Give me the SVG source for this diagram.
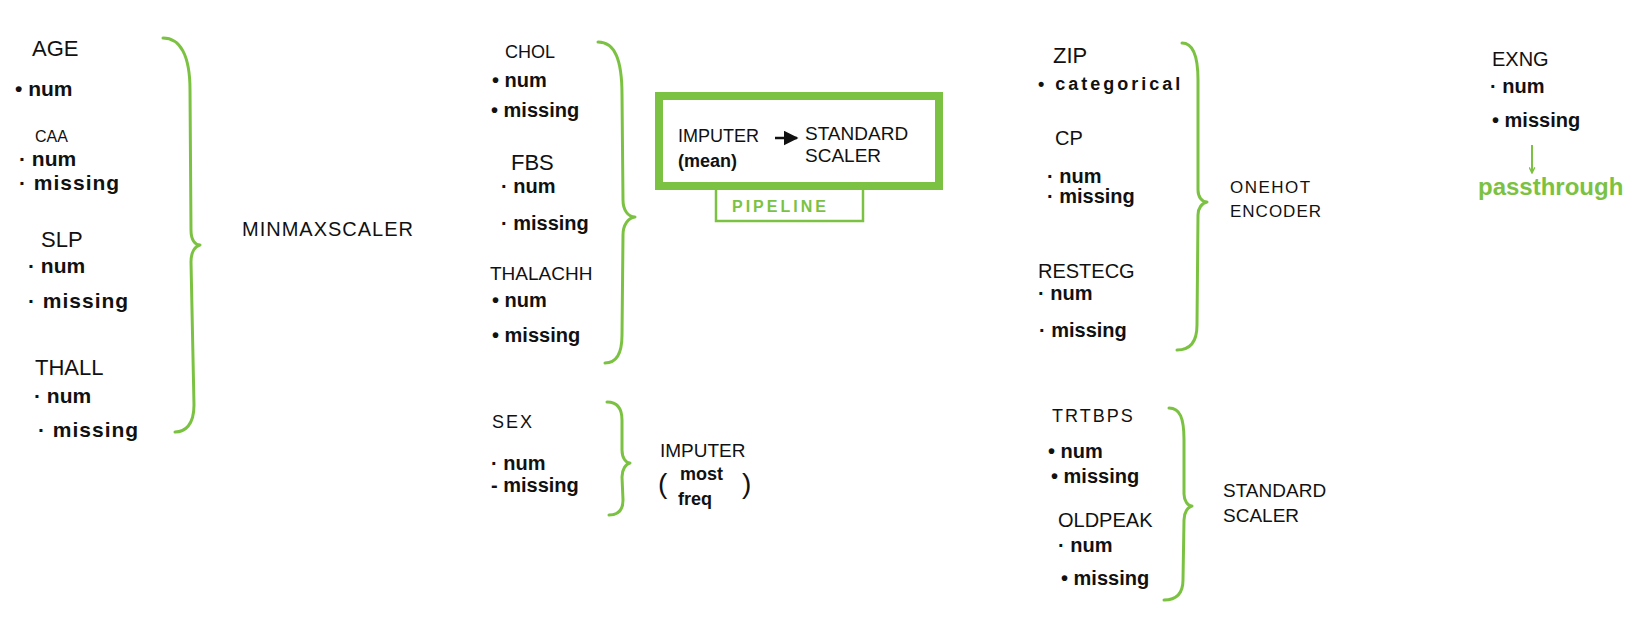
<svg xmlns="http://www.w3.org/2000/svg" width="1636" height="625" viewBox="0 0 1636 625">
<style>
text{font-family:"Liberation Sans",Arial,sans-serif;fill:#111}
.h{font-size:20px}
.it{font-size:20px;font-weight:bold}
.g{fill:#7cc242}
.br{fill:none;stroke:#7cc242;stroke-width:3;stroke-linecap:round;stroke-linejoin:round}
</style>
<defs>
<marker id="ah" viewBox="0 0 10 10" refX="9" refY="5" markerWidth="6" markerHeight="6" orient="auto">
<path d="M0,0 L10,5 L0,10 z" fill="#111"/>
</marker>
<marker id="gv" viewBox="0 0 10 10" refX="9" refY="5" markerWidth="7" markerHeight="7" orient="auto" markerUnits="userSpaceOnUse">
<path d="M1,1 L9,5 L1,9" fill="none" stroke="#7cc242" stroke-width="2"/>
</marker>
</defs>
<rect width="1636" height="625" fill="#fff"/>

<g id="connectors">
<path class="br" d="M163,38 C180,38 190,55 190,90 L191,230 C191,240 195,245 200,245 C195,246 191,252 191,262 L194,405 C194,425 185,432 175,432"/>
<path class="br" d="M598,42 C615,42 622,60 622,95 L623,200 C623,210 628,217 635,217 C628,218 623,225 623,235 L622,335 C622,355 615,363 605,363"/>
<path class="br" d="M607,402 C617,402 622,408 622,420 L622,450 C622,458 626,463 630,463 C626,464 622,469 622,477 L623,500 C623,510 618,515 609,515"/>
<path class="br" d="M1182,43 C1193,43 1198,55 1198,80 L1198,190 C1198,197 1202,202 1207,202 C1202,203 1198,208 1198,215 L1197,325 C1197,342 1190,350 1177,350"/>
<path class="br" d="M1169,408 C1180,408 1184,418 1184,440 L1184,494 C1184,501 1188,506 1192,506 C1188,507 1184,512 1184,520 L1183,580 C1183,594 1176,600 1164,600"/>
<line x1="775" y1="138" x2="797" y2="138" stroke="#111" stroke-width="2.5" marker-end="url(#ah)"/>
<line x1="1532" y1="145" x2="1532" y2="173" stroke="#7cc242" stroke-width="2" marker-end="url(#gv)"/>
</g>

<g id="minmax-features">
<text class="h" x="32" y="56" style="font-size:22px">AGE</text>
<text class="it" x="15" y="96" style="font-size:21px">• num</text>
<text class="h" x="35" y="142" style="font-size:16px">CAA</text>
<text class="it" x="19" y="166" style="font-size:21px">· num</text>
<text class="it" x="19" y="190" style="font-size:21px;letter-spacing:1px">· missing</text>
<text class="h" x="41" y="247" style="font-size:22px">SLP</text>
<text class="it" x="28" y="273" style="font-size:21px">· num</text>
<text class="it" x="28" y="308" style="font-size:21px;letter-spacing:1px">· missing</text>
<text class="h" x="35" y="375" style="font-size:22px">THALL</text>
<text class="it" x="34" y="403" style="font-size:21px">· num</text>
<text class="it" x="38" y="437" style="font-size:21px;letter-spacing:1px">·  missing</text>
</g>
<g id="minmaxscaler">
<text class="h" x="242" y="236" style="letter-spacing:1px">MINMAXSCALER</text>
</g>

<g id="pipeline-features">
<text class="h" x="505" y="58" style="font-size:18px">CHOL</text>
<text class="it" x="492" y="87">• num</text>
<text class="it" x="491" y="117">• missing</text>
<text class="h" x="511" y="170" style="font-size:22px">FBS</text>
<text class="it" x="501" y="193">· num</text>
<text class="it" x="501" y="230">· missing</text>
<text class="h" x="490" y="280" style="font-size:19px">THALACHH</text>
<text class="it" x="492" y="307">• num</text>
<text class="it" x="492" y="342">• missing</text>
</g>
<g id="pipeline">
<rect x="659" y="96" width="280" height="90" fill="none" stroke="#7cc242" stroke-width="8"/>
<path d="M716,190 V221 H863 V190" fill="none" stroke="#7cc242" stroke-width="2.5"/>
<text class="h" x="678" y="142" style="font-size:18px">IMPUTER</text>
<text class="it" x="678" y="167" style="font-size:18px">(mean)</text>
<text class="h" x="805" y="140" style="font-size:19px">STANDARD</text>
<text class="h" x="805" y="162" style="font-size:19px">SCALER</text>
<text class="g" x="732" y="212" style="font-size:16px;letter-spacing:3px;font-weight:bold">PIPELINE</text>
</g>

<g id="imputer-features">
<text class="h" x="492" y="428" style="font-size:18px;letter-spacing:2px">SEX</text>
<text class="it" x="491" y="470">· num</text>
<text class="it" x="491" y="492">- missing</text>
</g>
<g id="imputer-most-freq">
<text class="h" x="660" y="457" style="font-size:19px">IMPUTER</text>
<text class="h" x="658" y="493" style="font-size:28px">(</text>
<text class="it" x="680" y="480" style="font-size:18px">most</text>
<text class="h" x="742" y="493" style="font-size:28px">)</text>
<text class="it" x="678" y="505" style="font-size:18px">freq</text>
</g>

<g id="onehot-features">
<text class="h" x="1053" y="63" style="font-size:22px">ZIP</text>
<text class="it" x="1038" y="90" style="font-size:18px;letter-spacing:3px">• categorical</text>
<text class="h" x="1055" y="145">CP</text>
<text class="it" x="1047" y="183">· num</text>
<text class="it" x="1047" y="203">· missing</text>
<text class="h" x="1038" y="278">RESTECG</text>
<text class="it" x="1038" y="300">· num</text>
<text class="it" x="1039" y="337">·  missing</text>
</g>
<g id="onehot-encoder">
<text class="h" x="1230" y="193" style="font-size:17px;letter-spacing:1.5px">ONEHOT</text>
<text class="h" x="1230" y="217" style="font-size:17px;letter-spacing:1px">ENCODER</text>
</g>

<g id="standard-features">
<text class="h" x="1052" y="422" style="font-size:18px;letter-spacing:2px">TRTBPS</text>
<text class="it" x="1048" y="458">•  num</text>
<text class="it" x="1051" y="483">•  missing</text>
<text class="h" x="1058" y="527">OLDPEAK</text>
<text class="it" x="1058" y="552">·  num</text>
<text class="it" x="1061" y="585">• missing</text>
</g>
<g id="standard-scaler">
<text class="h" x="1223" y="497" style="font-size:19px">STANDARD</text>
<text class="h" x="1223" y="522" style="font-size:19px">SCALER</text>
</g>

<g id="passthrough-features">
<text class="h" x="1492" y="66">EXNG</text>
<text class="it" x="1490" y="93">· num</text>
<text class="it" x="1492" y="127">• missing</text>
</g>
<g id="passthrough">
<text class="g" x="1478" y="195" style="font-size:24px;font-weight:bold">passthrough</text>
</g>
</svg>
